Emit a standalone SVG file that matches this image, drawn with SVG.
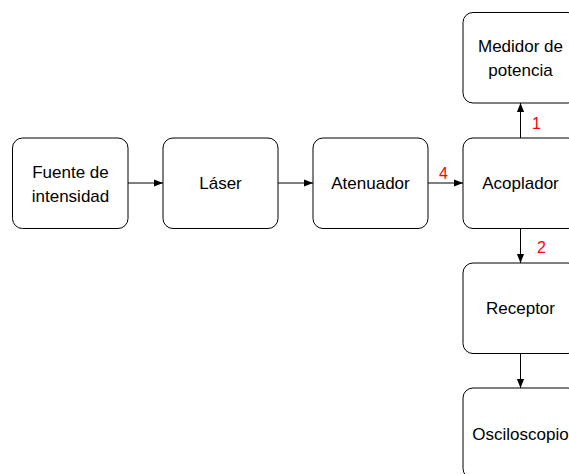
<svg xmlns="http://www.w3.org/2000/svg" width="569" height="474" viewBox="0 0 569 474">
<style>
.box{fill:#fff;stroke:#000;stroke-width:1}
.t{font-family:"Liberation Sans",Arial,sans-serif;font-size:17px;fill:#000;text-anchor:middle}
.lbl{font-family:"Liberation Sans",Arial,sans-serif;font-size:16px;fill:#ff0000;text-anchor:middle}
.c{stroke:#000;stroke-width:1;fill:none;marker-end:url(#ah)}
</style>
<defs>
<marker id="ah" viewBox="0 0 10 10" refX="10" refY="5" markerWidth="9" markerHeight="9" markerUnits="userSpaceOnUse" orient="auto">
<path d="M0,1 L10,5 L0,9 Z" fill="#000"/>
</marker>
</defs>
<rect width="569" height="474" fill="#fff"/>
<g id="connectors">
<line class="c" x1="128" y1="183" x2="163" y2="183"/>
<line class="c" x1="278" y1="183" x2="313" y2="183"/>
<line class="c" x1="428" y1="183" x2="463" y2="183"/>
<line class="c" x1="520.5" y1="138" x2="520.5" y2="103"/>
<line class="c" x1="520.5" y1="228" x2="520.5" y2="263"/>
<line class="c" x1="520.5" y1="353.5" x2="520.5" y2="388"/>
<text class="lbl" x="443.5" y="178.5">4</text>
<text class="lbl" x="536.5" y="128.5">1</text>
<text class="lbl" x="541.5" y="252.5">2</text>
</g>
<g id="fuente">
<rect class="box" x="12.5" y="138" width="115.5" height="90.5" rx="10"/>
<text class="t" x="70.5" y="178">Fuente de</text>
<text class="t" x="70.5" y="202">intensidad</text>
</g>
<g id="laser">
<rect class="box" x="163" y="138" width="115" height="90.5" rx="10"/>
<text class="t" x="220.5" y="189">Láser</text>
</g>
<g id="atenuador">
<rect class="box" x="313" y="138" width="115" height="90.5" rx="10"/>
<text class="t" x="370.5" y="189">Atenuador</text>
</g>
<g id="acoplador">
<rect class="box" x="463" y="138" width="115" height="90.5" rx="10"/>
<text class="t" x="520.5" y="189">Acoplador</text>
</g>
<g id="medidor">
<rect class="box" x="463" y="12.5" width="115" height="90.5" rx="10"/>
<text class="t" x="520.5" y="52">Medidor de</text>
<text class="t" x="520.5" y="76">potencia</text>
</g>
<g id="receptor">
<rect class="box" x="463" y="263" width="115" height="90.5" rx="10"/>
<text class="t" x="520.5" y="314">Receptor</text>
</g>
<g id="osciloscopio">
<rect class="box" x="463" y="388" width="115" height="90.5" rx="10"/>
<text class="t" x="520.5" y="440">Osciloscopio</text>
</g>
</svg>
